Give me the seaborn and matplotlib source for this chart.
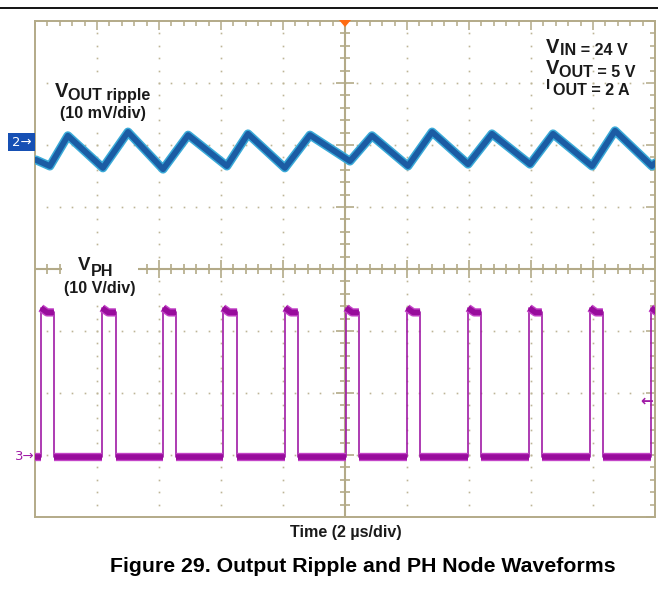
import numpy as np
import pandas as pd
import matplotlib
matplotlib.use("Agg")
import matplotlib.pyplot as plt
import seaborn as sns
from matplotlib.patches import Rectangle, Polygon
from matplotlib.ticker import MultipleLocator

# ---------------- data ----------------
# time in microseconds (screen centre = 0, 2 us/div, 10 div)
ripple_t_us = [-9.97, -9.52, -8.94, -7.81, -7.00, -5.87, -5.06, -3.81, -3.13,
               -1.94, -1.13, 0.16, 0.87, 2.03, 2.81, 3.97, 4.74, 5.97, 6.71,
               7.97, 8.71, 9.90, 10.0]
# ripple in mV relative to the channel-2 marker (10 mV/div)
ripple_mv = [-2.4, -3.4, 1.5, -3.7, 2.1, -3.9, 1.6, -3.4, 1.8,
             -3.7, 1.6, -2.6, 1.5, -3.4, 2.1, -3.1, 1.8, -3.1, 1.8,
             -3.4, 2.3, -3.4, -2.9]
# PH node switching edges (us) and levels (V, 10 V/div)
ph_rise_us = [-9.81, -7.84, -5.87, -3.94, -1.94, 0.03, 2.00, 3.97, 5.94, 7.90, 9.87]
ph_fall_us = [-9.39, -7.39, -5.45, -3.48, -1.52, 0.45, 2.42, 4.39, 6.35, 8.32]
ph_peak_v = 23.7
ph_high_v = 23.0
ph_low_v = -0.4

ch2_offset_div = 2.0
ch3_offset_div = -3.0
mv_per_div = 10.0
v_per_div = 10.0

# ---------------- build tables ----------------
rip = pd.DataFrame({"t": ripple_t_us,
                    "y": [ch2_offset_div + v / mv_per_div for v in ripple_mv]})

plateau_rows = []
seg = 0
plateau_rows += [(seg, -10.0, ph_low_v), (seg, ph_rise_us[0], ph_low_v)]
for i, r in enumerate(ph_rise_us):
    seg += 1
    end = ph_fall_us[i] if i < len(ph_fall_us) else 10.0
    plateau_rows += [(seg, r, ph_peak_v), (seg, r + 0.2, ph_high_v), (seg, end, ph_high_v)]
    if i < len(ph_fall_us):
        seg += 1
        nxt = ph_rise_us[i + 1]
        plateau_rows += [(seg, ph_fall_us[i], ph_low_v), (seg, nxt, ph_low_v)]
plat = pd.DataFrame(plateau_rows, columns=["seg", "t", "v"])
plat["y"] = ch3_offset_div + plat["v"] / v_per_div

edge_rows = []
k = 0
for r in ph_rise_us:
    edge_rows += [(k, r, ph_low_v), (k, r, ph_peak_v)]
    k += 1
for f in ph_fall_us:
    edge_rows += [(k, f, ph_high_v), (k, f, ph_low_v)]
    k += 1
edges = pd.DataFrame(edge_rows, columns=["seg", "t", "v"])
edges["y"] = ch3_offset_div + edges["v"] / v_per_div

# ---------------- figure ----------------
sns.set_style("white")
plt.rcParams["font.family"] = ["Liberation Sans", "DejaVu Sans"]

W, H = 658, 590
fig = plt.figure(figsize=(W / 100, H / 100), dpi=100)
fig.patch.set_facecolor("white")

def fx(px):
    return px / W

def fy(py):
    return 1 - py / H

L, R, T, B = 35, 655, 21, 517
ax = fig.add_axes([fx(L), fy(B), (R - L) / W, (B - T) / H])
ax.set_xlim(-10, 10)
ax.set_ylim(-4, 4)

TAN = "#b3aa88"
for s in ax.spines.values():
    s.set_color(TAN)
    s.set_linewidth(1.4)
ax.xaxis.set_major_locator(MultipleLocator(2))
ax.xaxis.set_minor_locator(MultipleLocator(0.4))
ax.yaxis.set_major_locator(MultipleLocator(1))
ax.yaxis.set_minor_locator(MultipleLocator(0.2))
ax.tick_params(which="both", direction="in", top=True, right=True,
               labelbottom=False, labelleft=False, color=TAN, width=1.1)
ax.tick_params(which="major", length=6.5)
ax.tick_params(which="minor", length=3.5)

# grid dots
gx = [-8, -6, -4, -2, 2, 4, 6, 8]
gy = [-3, -2, -1, 1, 2, 3]
ys = np.round(np.arange(-3.8, 3.81, 0.2), 2)
xs = np.round(np.arange(-9.6, 9.61, 0.4), 2)
dx, dy = [], []
for x in gx:
    for y in ys:
        dx.append(x); dy.append(y)
for y in gy:
    for x in xs:
        dx.append(x); dy.append(y)
ax.plot(dx, dy, ls="none", marker="s", ms=1.2, color="#bdb596", mew=0, zorder=1)

# centre cross
ax.axhline(0, color=TAN, lw=1.5, zorder=1.5)
ax.axvline(0, color=TAN, lw=1.5, zorder=1.5)
mx = [x for x in xs if abs(x / 2 - round(x / 2)) > 1e-6]
Mx = [-8, -6, -4, -2, 2, 4, 6, 8]
my = [y for y in ys if abs(y - round(y)) > 1e-6]
My = [-3, -2, -1, 1, 2, 3]
ax.plot(mx, [0] * len(mx), ls="none", marker="|", ms=7.5, mew=1.2, color=TAN, zorder=1.5)
ax.plot(Mx, [0] * len(Mx), ls="none", marker="|", ms=13, mew=1.2, color=TAN, zorder=1.5)
ax.plot([0] * len(my), my, ls="none", marker="_", ms=7.5, mew=1.2, color=TAN, zorder=1.5)
ax.plot([0] * len(My), My, ls="none", marker="_", ms=13, mew=1.2, color=TAN, zorder=1.5)

# white label backgrounds
ax.add_patch(Rectangle((fx(62), fy(300)), (138 - 62) / W, (300 - 252) / H,
                       transform=fig.transFigure, facecolor="white",
                       edgecolor="none", zorder=2, clip_on=False))
ax.add_patch(Rectangle((fx(52), fy(125)), (153 - 52) / W, (125 - 80) / H,
                       transform=fig.transFigure, facecolor="white",
                       edgecolor="none", zorder=2, clip_on=False))

# traces
sns.lineplot(data=rip, x="t", y="y", estimator=None, sort=False, ax=ax,
             color="#3aaad8", lw=6.4, zorder=3, solid_joinstyle="round")
sns.lineplot(data=rip, x="t", y="y", estimator=None, sort=False, ax=ax,
             color="#1b5ca4", lw=4.2, zorder=3.1, solid_joinstyle="round")
sns.lineplot(data=edges, x="t", y="y", units="seg", estimator=None, sort=False,
             ax=ax, color="#a01aa6", lw=1.2, zorder=3)
sns.lineplot(data=plat, x="t", y="y", units="seg", estimator=None, sort=False,
             ax=ax, color="#c446c8", lw=6.0, zorder=3, solid_capstyle="butt",
             solid_joinstyle="round")
sns.lineplot(data=plat, x="t", y="y", units="seg", estimator=None, sort=False,
             ax=ax, color="#980c9c", lw=4.0, zorder=3.1, solid_capstyle="butt",
             solid_joinstyle="round")
ax.set_xlabel("")
ax.set_ylabel("")

# trigger position marker (orange triangle)
fig.patches.append(Polygon([[fx(339), fy(20)], [fx(351), fy(20)], [fx(345), fy(27)]],
                           closed=True, transform=fig.transFigure,
                           facecolor="#ff6c12", edgecolor="none", zorder=5))

# top rule
fig.add_artist(plt.Line2D([0, 1], [fy(8), fy(8)], color="black", lw=1.3,
                          transform=fig.transFigure))

# channel markers
ARW = ["DejaVu Sans"]
fig.patches.append(Rectangle((fx(8), fy(151)), 27 / W, 18 / H,
                             transform=fig.transFigure, facecolor="#1650b4",
                             edgecolor="none", zorder=5))
fig.text(fx(21.5), fy(142.5), "2\u2192", color="white", fontsize=9.5,
         ha="center", va="center", zorder=6, family=ARW)
fig.text(fx(25), fy(457), "3\u2192", color="#a01aa6", fontsize=9.5,
         ha="center", va="center", family=ARW)
fig.text(fx(647), fy(401), "\u2190", color="#a01aa6", fontsize=11,
         ha="center", va="center", fontweight="bold", family=ARW)

TXT = "#1a1a1a"
BIG = 14.5
SM = 11.6
# VOUT ripple label
fig.text(fx(55), fy(97), "V", fontsize=BIG, fontweight="bold", color=TXT)
fig.text(fx(68), fy(100), "OUT ripple", fontsize=SM, fontweight="bold", color=TXT)
fig.text(fx(60), fy(118), "(10 mV/div)", fontsize=SM, fontweight="bold", color=TXT)
# VPH label
fig.text(fx(78), fy(270), "V", fontsize=13.5, fontweight="bold", color=TXT)
fig.text(fx(91), fy(276), "PH", fontsize=SM, fontweight="bold", color=TXT)
fig.text(fx(64), fy(293), "(10 V/div)", fontsize=SM, fontweight="bold", color=TXT)
# conditions
fig.text(fx(546), fy(53), "V", fontsize=BIG, fontweight="bold", color=TXT)
fig.text(fx(560), fy(55), "IN = 24 V", fontsize=SM, fontweight="bold", color=TXT)
fig.text(fx(546), fy(74), "V", fontsize=BIG, fontweight="bold", color=TXT)
fig.text(fx(559), fy(77), "OUT = 5 V", fontsize=SM, fontweight="bold", color=TXT)
fig.text(fx(546), fy(89), "I", fontsize=11, fontweight="bold", color=TXT)
fig.text(fx(553), fy(95), "OUT = 2 A", fontsize=SM, fontweight="bold", color=TXT)

# axis caption and figure title
fig.text(fx(346), fy(537), "Time (2 \u00b5s/div)", fontsize=SM, fontweight="bold",
         color=TXT, ha="center")
fig.text(fx(363), fy(572), "Figure 29. Output Ripple and PH Node Waveforms",
         fontsize=15.3, fontweight="bold", color="black", ha="center")

fig.savefig("out.png", dpi=100)
